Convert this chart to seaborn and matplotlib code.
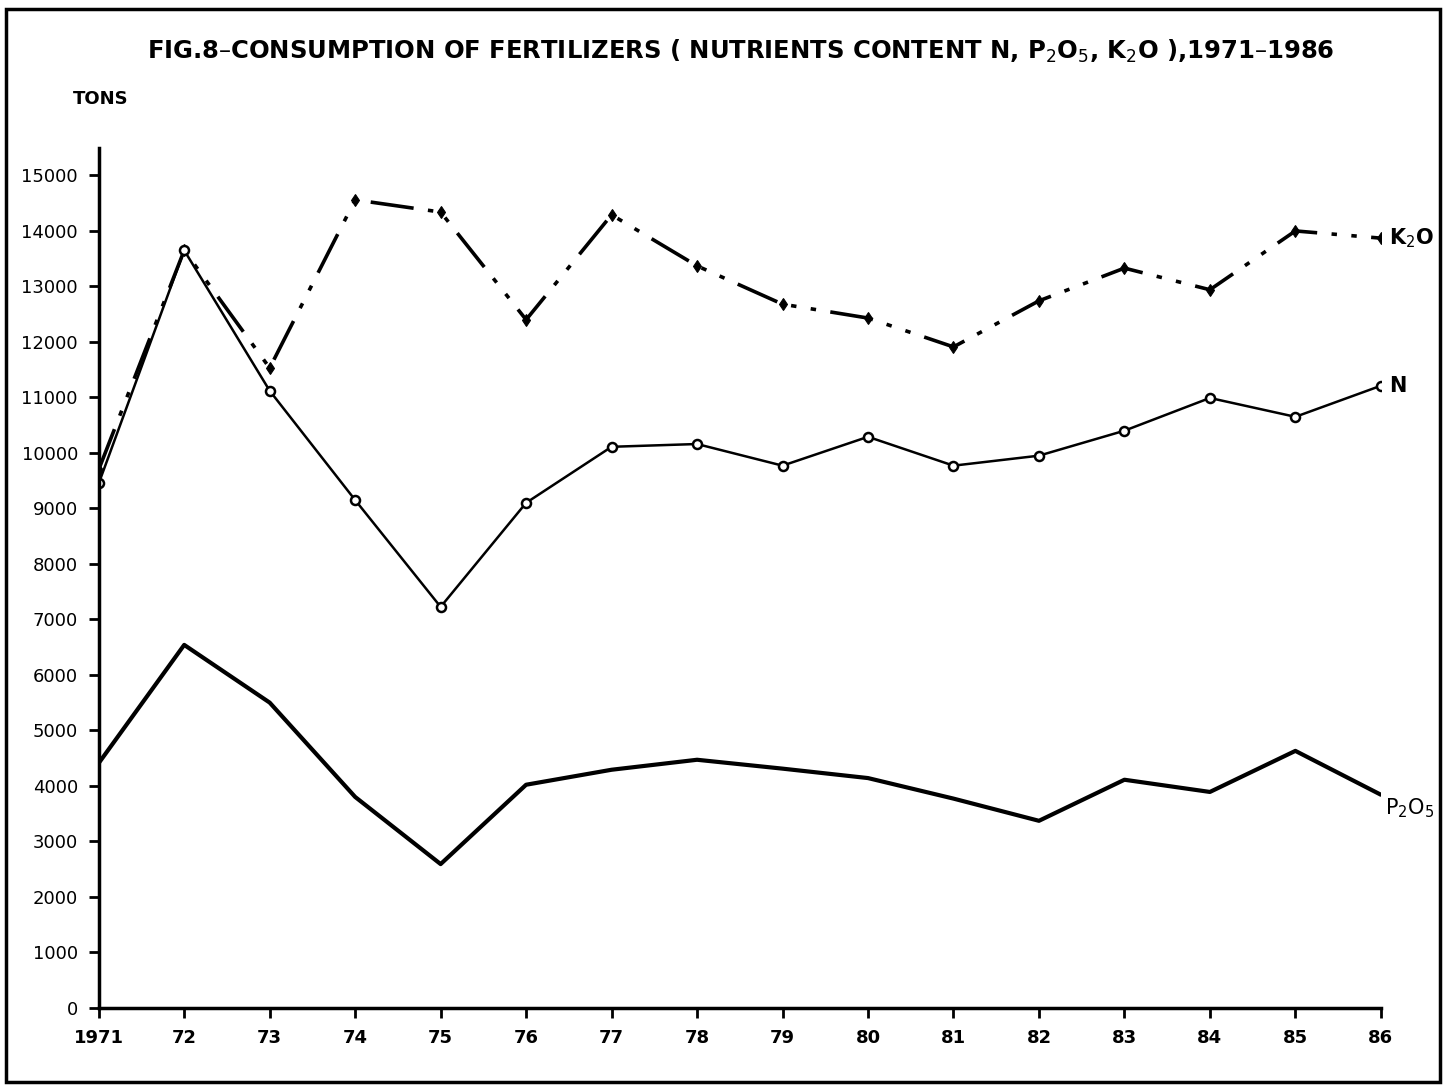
import matplotlib
matplotlib.use("Agg")
import matplotlib.pyplot as plt
import seaborn as sns
import pandas as pd
from matplotlib.patches import Rectangle

years = list(range(1971, 1987))
year_labels = ["1971", "72", "73", "74", "75", "76", "77", "78", "79", "80",
               "81", "82", "83", "84", "85", "86"]
k2o = [9700, 13650, 11530, 14560, 14340, 12400, 14290, 13370, 12680, 12430,
       11910, 12740, 13330, 12940, 14000, 13870]
n_vals = [9450, 13650, 11120, 9150, 7225, 9100, 10110, 10160, 9770, 10290,
          9770, 9950, 10400, 10990, 10650, 11210]
p2o5 = [4410, 6540, 5500, 3800, 2590, 4020, 4290, 4470, 4310, 4140,
        3770, 3370, 4110, 3890, 4630, 3840]
y_ticks = list(range(0, 16000, 1000))

sns.set_theme(style="ticks")
plt.rcParams['font.family'] = ['DejaVu Sans']
plt.rcParams['text.color'] = 'black'
plt.rcParams['xtick.color'] = 'black'
plt.rcParams['ytick.color'] = 'black'

fig = plt.figure(figsize=(14.52, 10.86), dpi=100)
ax = fig.add_axes([0.068, 0.072, 0.883, 0.792])

df_k = pd.DataFrame({"year": years, "v": k2o})
df_n = pd.DataFrame({"year": years, "v": n_vals})
df_p = pd.DataFrame({"year": years, "v": p2o5})

sns.lineplot(data=df_k, x="year", y="v", ax=ax, color="black", linewidth=2.6,
             marker="d", markersize=6, markeredgecolor="black")
ax.lines[-1].set_dashes([12, 4, 1.5, 4, 1.5, 4])
sns.lineplot(data=df_n, x="year", y="v", ax=ax, color="black", linewidth=1.8,
             marker="o", markersize=6.5, markerfacecolor="white",
             markeredgecolor="black", markeredgewidth=1.8)
sns.lineplot(data=df_p, x="year", y="v", ax=ax, color="black", linewidth=3)

ax.set_xlim(1971, 1986)
ax.set_ylim(0, 15500)
ax.set_xticks(years)
ax.set_xticklabels(year_labels, fontsize=13, fontweight="bold")
ax.set_yticks(y_ticks)
ax.set_yticklabels([str(t) for t in y_ticks], fontsize=13)
ax.tick_params(axis="both", direction="out", length=7, width=2, colors="black", pad=8)
ax.set_xlabel("")
ax.set_ylabel("")
sns.despine(ax=ax)
for s in ["left", "bottom"]:
    ax.spines[s].set_linewidth(2.5)
    ax.spines[s].set_color("black")

ax.text(1986.1, k2o[-1], "K$_2$O", fontsize=15, fontweight="bold", va="center", ha="left")
ax.text(1986.1, n_vals[-1], "N", fontsize=15, fontweight="bold", va="center", ha="left")
ax.text(1986.05, p2o5[-1] - 250, "P$_2$O$_5$", fontsize=15, va="center", ha="left")

fig.text(0.51, 0.953,
         "FIG.8–CONSUMPTION OF FERTILIZERS ( NUTRIENTS CONTENT N, P$_2$O$_5$, K$_2$O ),1971–1986",
         ha="center", va="center", fontsize=17.5, fontweight="heavy", color="black")
fig.text(0.05, 0.909, "TONS", ha="left", va="center", fontsize=13, fontweight="bold",
         color="black")

fig.patches.append(Rectangle((0.004, 0.004), 0.988, 0.988, transform=fig.transFigure,
                             fill=False, edgecolor="black", linewidth=2.5))

fig.savefig("out.png", dpi=100)
